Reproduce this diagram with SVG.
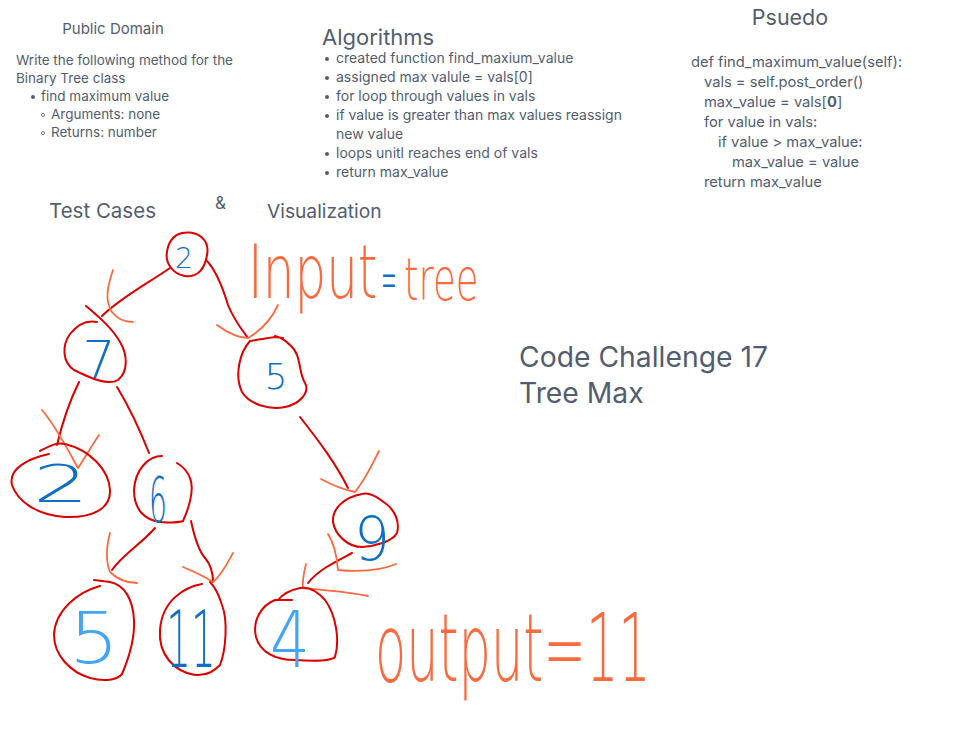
<svg xmlns="http://www.w3.org/2000/svg" width="965" height="733" viewBox="0 0 965 733">
<style>
.t{font-family:Inter,"Open Sans","Liberation Sans",sans-serif;fill:#535d70}
.s13{font-size:13.5px}
.s14{font-size:14px}
.p14{font-size:14.7px}
.blob{fill:none;stroke:#dc0000;stroke-width:2;stroke-linecap:round;stroke-linejoin:round}
.edge{fill:none;stroke:#dc0000;stroke-width:2;stroke-linecap:round}
.arr{fill:none;stroke:#fb6a3f;stroke-width:1.8;stroke-linecap:round;stroke-linejoin:round}
.dg{font-family:"DejaVu Sans","Liberation Sans",sans-serif;font-weight:200;text-anchor:middle}
.dk{fill:#0f6fc6}
.lt{fill:#42a5f5}
.hw{font-family:"DejaVu Sans","Liberation Sans",sans-serif;font-weight:200;fill:#fb6a3f}
</style>
<rect width="965" height="733" fill="#ffffff"/>

<g id="public-domain">
<text class="t" x="113" y="34" font-size="15" text-anchor="middle">Public Domain</text>
<text class="t s13" x="16" y="65">Write the following method for the</text>
<text class="t s13" x="16" y="83">Binary Tree class</text>
<circle cx="33" cy="97" r="2" fill="#535d70"/>
<text class="t s13" x="41" y="101">find maximum value</text>
<circle cx="43" cy="115" r="1.6" fill="none" stroke="#535d70" stroke-width="0.8"/>
<text class="t s13" x="51" y="119">Arguments: none</text>
<circle cx="43" cy="133" r="1.6" fill="none" stroke="#535d70" stroke-width="0.8"/>
<text class="t s13" x="51" y="137">Returns: number</text>
</g>

<g id="algorithms">
<text class="t" x="322" y="45" font-size="22">Algorithms</text>
<g fill="#535d70">
<circle cx="327" cy="59" r="2"/><circle cx="327" cy="78" r="2"/><circle cx="327" cy="97" r="2"/>
<circle cx="327" cy="116" r="2"/><circle cx="327" cy="154" r="2"/><circle cx="327" cy="173" r="2"/>
</g>
<text class="t s14" x="336" y="63">created function find_maxium_value</text>
<text class="t s14" x="336" y="82">assigned max valule = vals[0]</text>
<text class="t s14" x="336" y="101">for loop through values in vals</text>
<text class="t s14" x="336" y="120">if value is greater than max values reassign</text>
<text class="t s14" x="336" y="139">new value</text>
<text class="t s14" x="336" y="158">loops unitl reaches end of vals</text>
<text class="t s14" x="336" y="177">return max_value</text>
</g>

<g id="psuedo">
<text class="t" x="790" y="25" font-size="21.5" text-anchor="middle">Psuedo</text>
<text class="t p14" x="691" y="67">def find_maximum_value(self):</text>
<text class="t p14" x="704" y="87">vals = self.post_order()</text>
<text class="t p14" x="704" y="107">max_value = vals[<tspan font-weight="bold">0</tspan>]</text>
<text class="t p14" x="704" y="127">for value in vals:</text>
<text class="t p14" x="718" y="147">if value &gt; max_value:</text>
<text class="t p14" x="732" y="167">max_value = value</text>
<text class="t p14" x="704" y="187">return max_value</text>
</g>

<g id="headings">
<text class="t" x="49" y="218" font-size="20.5">Test Cases</text>
<text class="t" x="215" y="209" font-size="17">&amp;</text>
<text class="t" x="267" y="218" font-size="19.2">Visualization</text>
</g>

<g id="title">
<text class="t" x="519" y="367" font-size="28.3">Code Challenge 17</text>
<text class="t" x="519" y="403" font-size="28.3">Tree Max</text>
</g>

<g id="connectors">
<path class="edge" d="M170,268 C150,282 120,298 102,316"/>
<path class="arr" d="M113,270 C108,285 104,300 112,312 C118,320 126,322 133,322"/>
<path class="edge" d="M206,260 C216,270 222,285 228,305 C234,320 242,330 248,338"/>
<path class="arr" d="M217,325 C228,333 238,338 248,338 C262,330 272,318 278,305"/>
<path class="edge" d="M79,382 C70,400 63,420 57,445"/>
<path class="arr" d="M42,410 C55,425 68,450 78,468 C85,458 92,445 99,435"/>
<path class="edge" d="M117,387 C128,405 138,425 149,453"/>
<path class="edge" d="M300,417 C318,440 335,462 348,488"/>
<path class="arr" d="M321,479 C332,485 345,490 355,492 C365,480 372,465 379,451"/>
<path class="edge" d="M155,528 C140,545 122,555 112,570"/>
<path class="arr" d="M110,533 C106,548 106,562 110,572 C118,580 128,583 137,583"/>
<path class="edge" d="M191,521 C194,535 198,550 205,558 C212,566 213,575 213,582"/>
<path class="arr" d="M183,567 C195,572 205,577 213,582 C222,575 228,562 233,553"/>
<path class="edge" d="M352,553 C335,562 318,570 308,583"/>
<path class="arr" d="M306,564 C304,572 302,580 303,588 C325,590 350,592 368,596"/>
<path class="arr" d="M328,534 C335,545 337,558 338,570 C360,572 382,570 396,564"/>
</g>

<g id="node-root-2">
<path class="blob" d="M182,233 C198,230 210,240 207,255 C205,268 198,278 185,276 C172,274 165,262 167,252 C168,243 173,235 182,233 Z"/>
<text class="dg dk" x="184" y="268" font-size="28">2</text>
</g>
<g id="node-7">
<path class="blob" d="M86,306 C100,318 112,328 120,342 C128,355 128,372 118,380 C108,386 90,378 74,370 C62,362 62,345 70,334 C78,324 88,320 97,322"/>
<text class="dg dk" x="99" y="378" font-size="52">7</text>
</g>
<g id="node-5-right">
<path class="blob" d="M250,341 C240,352 234,375 242,392 C250,405 270,410 285,407 C300,404 310,392 305,383 C298,372 302,355 290,345 C284,339 280,337 275,336 M250,341 L275,337 L283,338"/>
<text class="dg dk" x="276" y="389" font-size="36">5</text>
</g>
<g id="node-2-left">
<path class="blob" d="M49,454 C30,458 8,468 12,485 C17,500 35,515 65,517 C90,518 111,510 110,490 C109,470 90,450 65,444 C56,442 50,446 40,451"/>
<text class="dg dk" x="61" y="502" font-size="52" textLength="56" lengthAdjust="spacingAndGlyphs">2</text>
</g>
<g id="node-6">
<path class="blob" d="M162,456 C148,456 135,470 134,490 C134,510 145,520 160,522 C170,523 180,522 183,521 C188,510 195,490 190,478 C187,470 182,466 177,463"/>
<text class="dg dk" x="158" y="522" font-size="62" textLength="18" lengthAdjust="spacingAndGlyphs">6</text>
</g>
<g id="node-9">
<path class="blob" d="M362,494 C345,497 332,508 333,522 C335,535 348,547 362,547 C375,546 392,542 397,533 C400,522 395,510 385,503 C378,498 370,492 362,494 Z"/>
<text class="dg dk" x="372" y="560" font-size="60" textLength="36" lengthAdjust="spacingAndGlyphs">9</text>
</g>
<g id="node-5-bottom">
<path class="blob" d="M100,586 C78,592 55,610 54,635 C54,655 70,672 90,678 C105,682 117,680 122,674 C128,660 135,640 134,620 C133,600 125,585 110,582 L94,580"/>
<text class="dg lt" x="94" y="663" font-size="72" textLength="50" lengthAdjust="spacingAndGlyphs">5</text>
</g>
<g id="node-11">
<path class="blob" d="M202,584 C185,587 162,600 160,630 C158,655 175,672 195,675 C208,676 215,670 220,665 C226,650 228,620 222,605 C218,592 213,585 210,582"/>
<text class="dg dk" x="0" y="0" font-size="78" transform="translate(191,667) scale(0.5,1)">11</text>
</g>
<g id="node-4">
<path class="blob" d="M292,600 L275,600 C262,605 252,620 256,637 C260,652 275,660 295,660 C310,661 330,662 335,657 C340,640 336,615 325,600 C318,592 310,586 300,588 C290,590 282,595 278,600"/>
<text class="dg lt" x="290" y="667" font-size="78" textLength="40" lengthAdjust="spacingAndGlyphs">4</text>
</g>

<g id="label-input">
<text class="hw" x="0" y="0" font-size="50" transform="translate(248,298) scale(1,1.5)">Input</text>
<text class="hw" x="0" y="0" font-size="21" style="fill:#0f6fc6" transform="translate(381,300) scale(0.9,3)">=</text>
<text class="hw" x="0" y="0" font-size="37" transform="translate(404,300) scale(1,1.6)">tree</text>
</g>
<g id="label-output">
<text class="hw" x="0" y="0" font-size="51" transform="translate(375,681) scale(1,1.85)">output=11</text>
</g>
</svg>
